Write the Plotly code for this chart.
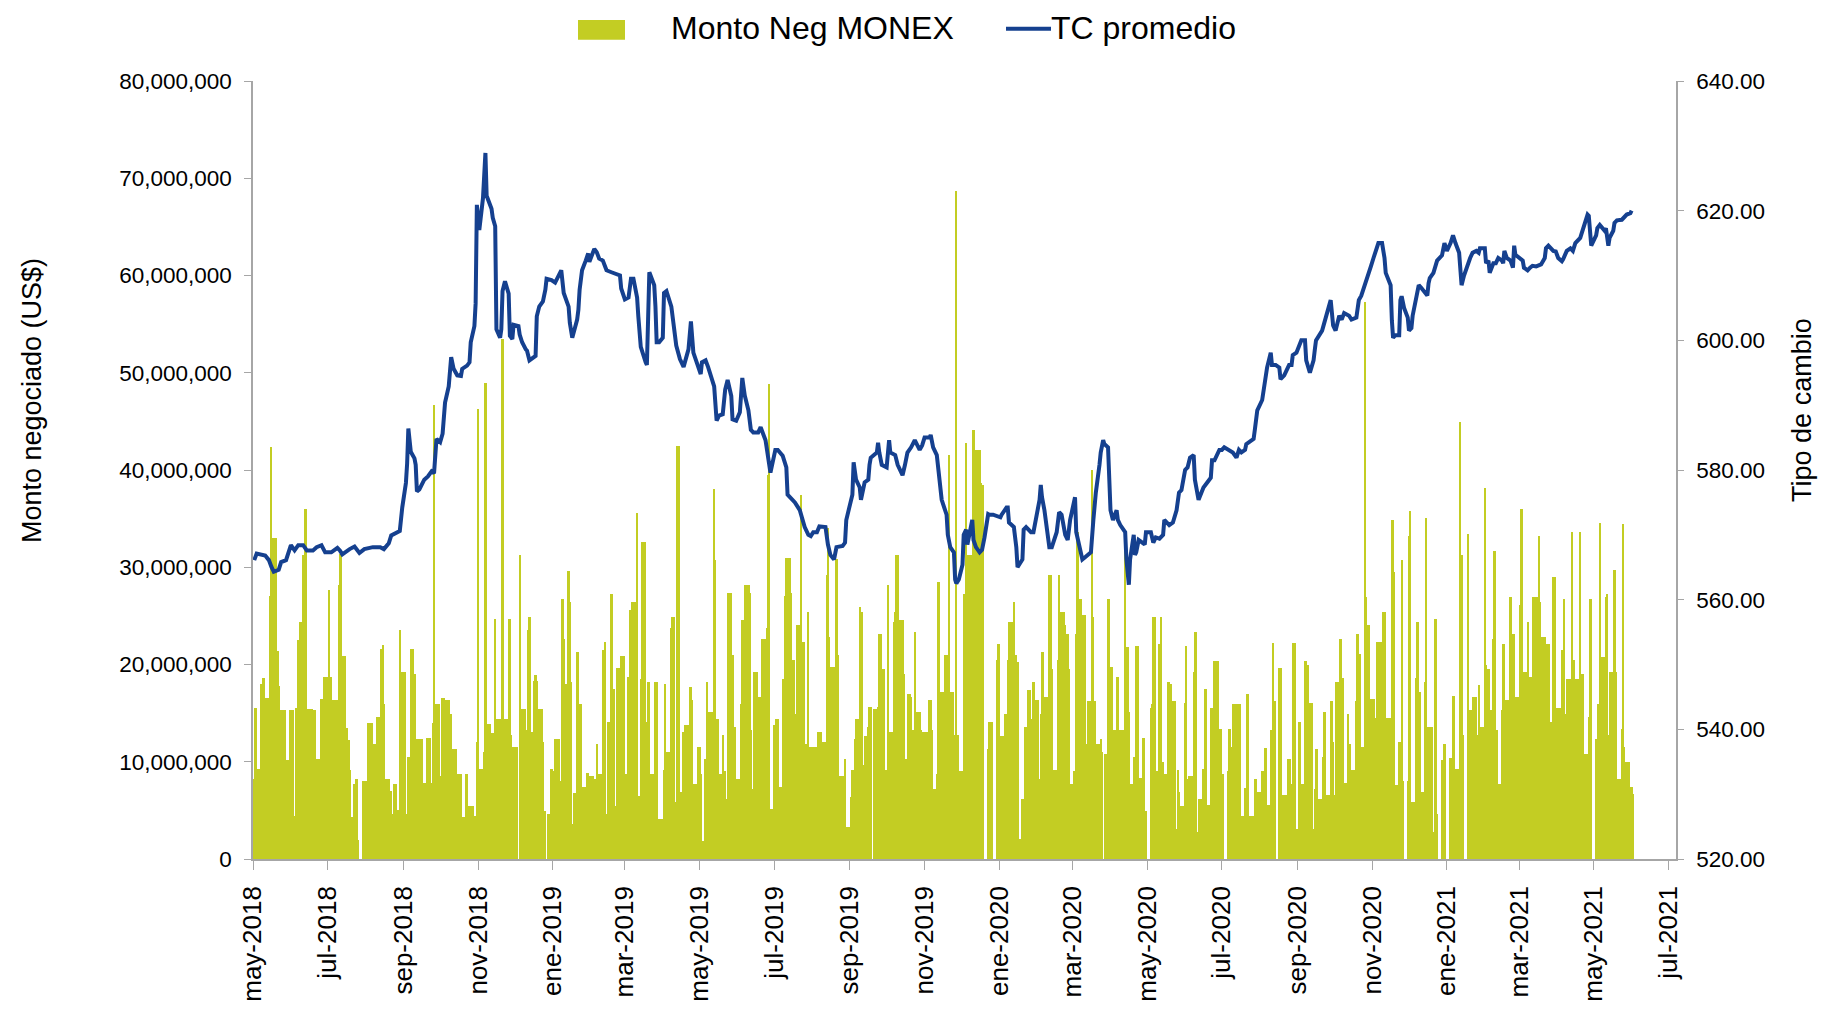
import pandas as pd
import plotly.graph_objects as go

# ---------------- DATA ----------------
# Monto negociado MONEX, millones de US$, un valor por día hábil (lista por mes)
monto_2018 = [
    [8.2, 15.5, 9.3, 9.3, 18.0, 18.6, 18.6, 16.6, 14.9, 27.0, 42.4, 33.0, 33.0, 21.4, 17.8, 15.3, 15.3, 15.3, 0.0, 10.2, 10.2, 15.3],
    [15.3, 4.4, 15.5, 15.5, 22.5, 24.4, 31.3, 31.3, 36.0, 15.4, 15.4, 15.4, 15.3, 15.3, 15.3, 10.3, 3.8, 16.5, 16.5, 18.7, 18.7],
    [27.7, 10.4, 18.7, 16.3, 16.3, 16.3, 28.2, 31.4, 31.4, 20.9, 13.5, 13.5, 12.2, 9.2, 4.3, 7.7, 8.2, 8.2, 2.0, 0.0, 8.0, 8.0],
    [8.0, 8.0, 14.0, 14.0, 1.9, 11.8, 11.8, 14.6, 14.6, 21.6, 22.0, 15.9, 8.2, 8.2, 7.0, 7.0, 4.6, 7.7, 5.0, 5.0, 23.5, 19.2, 19.2],
    [4.6, 0.0, 10.5, 10.5, 21.6, 19.0, 12.3, 12.3, 12.3, 12.3, 3.7, 7.8, 7.8, 12.4, 12.4, 7.8, 14.0, 46.7, 15.9, 15.9],
    [4.0, 8.5, 16.6, 16.6, 16.3, 16.3, 14.9, 14.9, 11.3, 11.3, 0.0, 8.7, 8.7, 8.7, 4.3, 8.7, 8.7, 4.4, 5.4, 5.4, 4.4, 4.4, 12.0],
    [46.3, 9.3, 9.3, 11.0, 48.9, 13.9, 13.9, 13.0, 13.0, 10.3, 24.7, 14.4, 14.4, 10.3, 53.5, 14.4, 14.4, 24.7, 24.7, 12.8, 11.5, 11.5],
    [11.5, 0.0, 31.3, 15.4, 15.4, 13.3, 0.0, 23.5, 24.9, 13.1, 18.3, 18.9, 18.3, 15.4, 15.4, 12.0, 4.9, 4.9, 0.0, 4.6, 9.3],
]
monto_2019 = [
    [0.0, 9.0, 12.3, 12.3, 4.4, 8.0, 26.7, 22.6, 18.0, 29.6, 26.4, 18.2, 3.6, 6.8, 21.3, 21.3, 15.9, 15.9, 7.4, 7.4, 8.8, 8.8, 8.5],
    [8.5, 6.4, 8.2, 11.8, 8.7, 8.7, 21.5, 21.5, 22.3, 4.6, 14.1, 27.3, 17.5, 17.5, 5.4, 19.6, 19.6, 20.9, 20.9, 20.9],
    [8.7, 18.7, 25.6, 18.7, 26.4, 26.4, 35.6, 1.8, 6.5, 18.5, 32.6, 14.1, 14.1, 18.2, 18.2, 8.7, 8.7, 18.2, 18.2, 4.1, 4.1],
    [4.1, 9.2, 18.0, 11.0, 11.0, 23.8, 24.9, 24.9, 5.9, 42.5, 6.9, 6.9, 0.0, 13.1, 13.8, 13.8, 17.7, 17.7, 16.4, 7.7, 7.7, 11.5],
    [11.5, 8.7, 1.8, 10.3, 18.2, 15.1, 15.1, 15.1, 38.0, 30.7, 14.4, 14.4, 8.7, 12.8, 9.0, 9.0, 6.2, 27.4, 27.4, 21.0, 13.6, 13.6, 8.2],
    [8.2, 15.9, 24.6, 24.6, 28.2, 28.2, 27.4, 13.3, 7.2, 19.2, 19.2, 16.7, 16.7, 16.7, 22.6, 22.6, 23.8, 39.5, 48.8, 5.1],
    [13.8, 13.8, 14.4, 14.4, 7.4, 18.5, 18.5, 27.0, 31.0, 31.0, 27.4, 20.5, 20.5, 14.9, 24.1, 24.1, 37.4, 22.3, 22.3, 11.8, 25.4, 11.5, 11.5],
    [11.5, 11.5, 0.0, 13.1, 13.1, 13.1, 12.0, 12.0, 29.2, 34.0, 22.8, 19.7, 19.7, 19.7, 30.8, 21.0, 8.5, 8.5, 8.5, 10.3, 3.3, 3.3],
    [6.4, 9.2, 9.2, 12.3, 14.4, 25.9, 25.4, 25.4, 9.7, 12.6, 13.6, 15.6, 15.6, 0.0, 15.4, 15.4, 15.6, 23.1, 23.1, 19.5, 9.2],
    [9.2, 28.2, 13.1, 13.1, 24.4, 25.4, 31.3, 31.3, 24.6, 24.6, 19.0, 10.3, 10.3, 17.0, 16.7, 13.3, 13.3, 23.3, 15.1, 15.1, 13.3, 13.1, 13.1],
    [13.1, 8.2, 16.4, 16.4, 13.3, 7.2, 8.7, 28.5, 28.5, 17.2, 17.2, 21.0, 21.0, 21.0, 41.5, 17.2, 12.8, 12.8, 68.7, 12.8, 9.0],
    [9.0, 27.2, 27.2, 42.8, 31.3, 31.3, 26.9, 44.1, 39.0, 42.1, 42.1, 38.7, 38.5, 38.5, 0.0, 11.3, 14.1, 14.1, 14.1, 0.0, 20.5, 22.1],
]
monto_2020 = [
    [22.1, 12.6, 12.6, 14.9, 14.9, 20.5, 24.4, 24.4, 26.4, 21.0, 21.0, 20.3, 2.1, 6.2, 6.2, 13.6, 13.6, 17.4, 14.4, 14.4, 18.2, 16.4, 16.4],
    [8.2, 14.9, 21.3, 21.3, 16.7, 13.3, 29.2, 29.2, 19.5, 9.2, 9.2, 20.5, 29.2, 25.4, 25.4, 24.1, 23.1, 23.1, 19.5, 7.7],
    [9.0, 9.0, 23.1, 33.6, 26.7, 0.0, 25.1, 25.1, 11.8, 16.2, 16.2, 40.0, 24.9, 16.2, 11.8, 11.8, 12.3, 11.0, 0.0, 10.8, 26.7, 26.7],
    [19.7, 19.7, 13.3, 18.7, 18.7, 0.0, 13.3, 13.3, 33.8, 21.8, 21.8, 15.1, 7.7, 10.5, 10.5, 21.9, 21.9, 8.3, 4.6, 12.4, 4.9, 4.9],
    [0.0, 15.5, 15.9, 24.9, 24.9, 9.0, 22.1, 24.9, 10.0, 10.0, 8.7, 18.2, 18.2, 18.0, 16.2, 16.2, 3.1, 9.2, 6.9, 5.4, 5.4],
    [16.0, 21.9, 8.2, 8.5, 8.5, 19.2, 23.3, 23.3, 2.8, 6.2, 6.2, 9.3, 17.5, 17.5, 5.6, 15.5, 15.5, 15.1, 20.4, 20.4, 4.6, 13.4],
    [8.7, 8.7, 0.0, 9.0, 13.4, 13.4, 11.5, 15.9, 15.9, 10.7, 15.9, 15.9, 4.4, 7.3, 7.3, 17.0, 4.4, 4.4, 0.0, 8.2, 8.2, 6.9, 6.9],
    [9.1, 9.1, 11.4, 11.4, 5.6, 13.3, 13.3, 22.2, 16.2, 0.0, 19.6, 19.6, 4.1, 6.6, 6.6, 10.3, 10.3, 10.3, 7.7, 22.2, 3.1],
    [3.1, 14.1, 14.1, 7.7, 20.4, 20.4, 20.0, 16.0, 16.0, 3.1, 7.2, 11.3, 11.3, 6.2, 6.2, 10.5, 15.1, 6.6, 6.6, 16.2, 16.2, 12.0],
    [6.6, 18.2, 18.2, 22.6, 18.6, 18.6, 7.8, 14.9, 11.8, 11.8, 9.2, 9.2, 16.2, 23.1, 21.1, 21.1, 11.5, 57.3, 26.9, 24.1, 24.1, 16.5],
    [16.5, 14.5, 9.2, 22.3, 22.3, 22.3, 25.4, 25.4, 9.2, 14.5, 14.5, 34.9, 34.9, 29.5, 7.6, 12.0, 12.0, 30.7, 8.0, 0.0, 8.0],
    [33.2, 35.8, 5.9, 5.9, 18.6, 24.4, 17.2, 17.2, 6.9, 18.2, 35.1, 13.6, 13.6, 13.6, 2.8, 24.7, 24.7, 4.6, 0.0, 10.2, 10.2, 11.8, 0.0],
]
monto_2021 = [
    [0.0, 10.4, 10.4, 16.8, 16.8, 9.3, 9.3, 44.9, 31.3, 12.8, 0.0, 33.4, 15.3, 15.3, 15.3, 16.7, 16.7, 12.7, 17.9, 13.6, 13.6],
    [38.1, 19.9, 19.5, 19.5, 15.3, 22.6, 31.7, 13.3, 13.3, 7.7, 15.3, 22.1, 22.1, 16.4, 16.4, 26.9, 16.7, 23.1, 23.1, 16.7],
    [16.7, 26.1, 36.0, 19.2, 19.2, 24.4, 18.7, 18.7, 18.7, 26.9, 26.9, 26.9, 33.2, 26.4, 22.8, 22.8, 22.1, 22.1, 22.1, 14.1, 29.0, 29.0, 0.0],
    [15.5, 15.5, 21.5, 21.5, 26.7, 14.9, 18.5, 18.5, 33.6, 20.5, 20.5, 18.5, 10.8, 33.6, 19.0, 19.0, 10.8, 10.8, 14.6, 26.7, 26.7, 0.0],
    [12.3, 12.3, 15.9, 34.5, 20.8, 20.8, 26.9, 27.2, 12.7, 19.2, 19.2, 29.7, 19.2, 8.2, 8.2, 13.4, 34.4, 11.5, 10.0, 10.0, 7.4],
    [7.4, 6.7],
]

# Tipo de cambio promedio (CLP/US$)
tc_fechas = [
    "2018-05-02", "2018-05-04", "2018-05-11", "2018-05-14", "2018-05-16", "2018-05-18", "2018-05-22", "2018-05-24", "2018-05-28", "2018-05-30",
    "2018-06-01", "2018-06-04", "2018-06-07", "2018-06-11", "2018-06-14", "2018-06-19", "2018-06-22", "2018-06-26", "2018-06-29",
    "2018-07-04", "2018-07-09", "2018-07-11", "2018-07-13", "2018-07-19", "2018-07-23", "2018-07-27", "2018-07-31",
    "2018-08-07", "2018-08-13", "2018-08-16", "2018-08-20", "2018-08-22", "2018-08-27", "2018-08-29", "2018-08-31",
    "2018-09-03", "2018-09-04", "2018-09-05", "2018-09-07", "2018-09-10", "2018-09-11", "2018-09-12", "2018-09-14", "2018-09-18",
    "2018-09-21", "2018-09-24", "2018-09-26", "2018-09-28",
    "2018-10-01", "2018-10-03", "2018-10-05", "2018-10-08", "2018-10-10", "2018-10-12", "2018-10-15", "2018-10-18", "2018-10-19",
    "2018-10-23", "2018-10-25", "2018-10-26", "2018-10-29", "2018-10-30", "2018-10-31",
    "2018-11-02", "2018-11-05", "2018-11-07", "2018-11-08", "2018-11-12", "2018-11-13", "2018-11-15", "2018-11-16", "2018-11-19",
    "2018-11-20", "2018-11-21", "2018-11-23", "2018-11-26", "2018-11-27", "2018-11-29", "2018-11-30",
    "2018-12-04", "2018-12-05", "2018-12-07", "2018-12-10", "2018-12-11", "2018-12-13", "2018-12-17", "2018-12-18", "2018-12-19",
    "2018-12-21", "2018-12-24", "2018-12-26", "2018-12-27", "2018-12-31",
    "2019-01-03", "2019-01-07", "2019-01-08", "2019-01-10", "2019-01-14", "2019-01-15", "2019-01-17", "2019-01-21", "2019-01-22",
    "2019-01-23", "2019-01-25", "2019-01-28", "2019-01-30", "2019-01-31",
    "2019-02-04", "2019-02-06", "2019-02-08", "2019-02-11", "2019-02-14", "2019-02-18", "2019-02-21", "2019-02-25", "2019-02-26",
    "2019-03-01", "2019-03-04", "2019-03-06", "2019-03-08", "2019-03-11", "2019-03-12", "2019-03-14", "2019-03-18", "2019-03-19",
    "2019-03-21", "2019-03-25", "2019-03-26", "2019-03-27", "2019-03-29",
    "2019-04-01", "2019-04-02", "2019-04-04", "2019-04-08", "2019-04-10", "2019-04-12", "2019-04-15", "2019-04-18", "2019-04-22",
    "2019-04-23", "2019-04-24", "2019-04-26", "2019-04-29",
    "2019-05-02", "2019-05-03", "2019-05-06", "2019-05-08", "2019-05-10", "2019-05-13", "2019-05-15", "2019-05-17", "2019-05-20",
    "2019-05-22", "2019-05-24", "2019-05-27", "2019-05-28", "2019-05-31",
    "2019-06-03", "2019-06-05", "2019-06-07", "2019-06-10", "2019-06-12", "2019-06-14", "2019-06-18", "2019-06-20", "2019-06-24",
    "2019-06-26", "2019-06-27", "2019-06-28",
    "2019-07-02", "2019-07-04", "2019-07-08", "2019-07-11", "2019-07-12", "2019-07-16", "2019-07-18", "2019-07-22", "2019-07-24",
    "2019-07-26", "2019-07-29", "2019-07-31",
    "2019-08-02", "2019-08-05", "2019-08-07", "2019-08-12", "2019-08-14", "2019-08-16", "2019-08-19", "2019-08-21", "2019-08-26",
    "2019-08-28", "2019-08-29",
    "2019-09-02", "2019-09-03", "2019-09-04", "2019-09-06", "2019-09-09", "2019-09-10", "2019-09-13", "2019-09-16", "2019-09-17",
    "2019-09-18", "2019-09-23", "2019-09-24", "2019-09-25", "2019-09-27",
    "2019-10-01", "2019-10-03", "2019-10-04", "2019-10-08", "2019-10-10", "2019-10-14", "2019-10-16", "2019-10-18", "2019-10-21",
    "2019-10-24", "2019-10-28", "2019-10-30",
    "2019-11-01", "2019-11-05", "2019-11-06", "2019-11-08", "2019-11-11", "2019-11-14", "2019-11-15", "2019-11-19", "2019-11-20",
    "2019-11-22", "2019-11-25", "2019-11-26", "2019-11-27", "2019-11-29",
    "2019-12-02", "2019-12-03", "2019-12-05", "2019-12-06", "2019-12-10", "2019-12-11", "2019-12-13", "2019-12-16", "2019-12-18",
    "2019-12-20", "2019-12-23", "2019-12-24", "2019-12-27",
    "2020-01-02", "2020-01-03", "2020-01-07", "2020-01-08", "2020-01-09", "2020-01-13", "2020-01-15", "2020-01-16", "2020-01-20",
    "2020-01-21", "2020-01-23", "2020-01-27", "2020-01-29", "2020-01-31",
    "2020-02-03", "2020-02-04", "2020-02-05", "2020-02-07", "2020-02-11", "2020-02-13", "2020-02-17", "2020-02-19", "2020-02-21",
    "2020-02-24", "2020-02-26", "2020-02-28",
    "2020-03-03", "2020-03-04", "2020-03-06", "2020-03-09", "2020-03-11", "2020-03-13", "2020-03-16", "2020-03-18", "2020-03-20",
    "2020-03-23", "2020-03-24", "2020-03-26", "2020-03-27", "2020-03-30", "2020-03-31",
    "2020-04-01", "2020-04-03", "2020-04-06", "2020-04-07", "2020-04-09", "2020-04-13", "2020-04-14", "2020-04-16", "2020-04-17",
    "2020-04-20", "2020-04-21", "2020-04-22", "2020-04-24", "2020-04-27", "2020-04-29", "2020-04-30",
    "2020-05-04", "2020-05-06", "2020-05-08", "2020-05-11", "2020-05-14", "2020-05-15", "2020-05-19", "2020-05-22", "2020-05-25",
    "2020-05-27", "2020-05-29",
    "2020-06-01", "2020-06-03", "2020-06-05", "2020-06-08", "2020-06-09", "2020-06-11", "2020-06-12", "2020-06-16", "2020-06-18",
    "2020-06-22", "2020-06-23", "2020-06-25", "2020-06-29",
    "2020-07-01", "2020-07-03", "2020-07-06", "2020-07-10", "2020-07-13", "2020-07-15", "2020-07-17", "2020-07-20", "2020-07-21",
    "2020-07-24", "2020-07-27", "2020-07-28", "2020-07-30",
    "2020-08-03", "2020-08-04", "2020-08-05", "2020-08-06", "2020-08-07", "2020-08-10", "2020-08-11", "2020-08-14", "2020-08-17",
    "2020-08-18", "2020-08-21", "2020-08-24", "2020-08-25", "2020-08-27", "2020-08-28", "2020-08-31",
    "2020-09-02", "2020-09-04", "2020-09-07", "2020-09-08", "2020-09-11", "2020-09-14", "2020-09-15", "2020-09-16", "2020-09-21",
    "2020-09-23", "2020-09-24", "2020-09-25", "2020-09-28", "2020-09-30",
    "2020-10-02", "2020-10-05", "2020-10-07", "2020-10-09", "2020-10-13", "2020-10-15", "2020-10-19", "2020-10-20", "2020-10-21",
    "2020-10-23", "2020-10-26", "2020-10-29", "2020-10-31",
    "2020-11-02", "2020-11-04", "2020-11-06", "2020-11-09", "2020-11-11", "2020-11-12", "2020-11-16", "2020-11-17", "2020-11-18",
    "2020-11-20", "2020-11-23", "2020-11-24", "2020-11-25", "2020-11-27", "2020-11-30",
    "2020-12-01", "2020-12-03", "2020-12-04", "2020-12-07", "2020-12-09", "2020-12-11", "2020-12-14", "2020-12-16", "2020-12-17",
    "2020-12-18", "2020-12-21", "2020-12-23", "2020-12-24", "2020-12-28", "2020-12-29", "2020-12-30",
    "2021-01-01", "2021-01-04", "2021-01-06", "2021-01-07", "2021-01-08", "2021-01-11", "2021-01-12", "2021-01-13", "2021-01-15",
    "2021-01-18", "2021-01-20", "2021-01-22", "2021-01-25", "2021-01-27", "2021-01-28",
    "2021-02-01", "2021-02-02", "2021-02-04", "2021-02-05", "2021-02-08", "2021-02-10", "2021-02-12", "2021-02-15", "2021-02-16",
    "2021-02-17", "2021-02-19", "2021-02-22", "2021-02-24", "2021-02-25", "2021-02-26",
    "2021-03-02", "2021-03-04", "2021-03-05", "2021-03-08", "2021-03-10", "2021-03-12", "2021-03-15", "2021-03-17", "2021-03-19",
    "2021-03-22", "2021-03-23", "2021-03-25", "2021-03-29", "2021-03-31",
    "2021-04-02", "2021-04-05", "2021-04-06", "2021-04-09", "2021-04-12", "2021-04-14", "2021-04-16", "2021-04-20", "2021-04-22",
    "2021-04-23", "2021-04-26", "2021-04-27", "2021-04-29",
    "2021-05-03", "2021-05-04", "2021-05-06", "2021-05-10", "2021-05-11", "2021-05-13", "2021-05-14", "2021-05-17", "2021-05-18",
    "2021-05-20", "2021-05-24", "2021-05-25", "2021-05-28", "2021-05-31", "2021-06-01",
]
tc_valores = [
    566.1, 567.1, 566.8, 566.1, 565.1, 564.3, 564.6, 565.8, 566.1, 567.1,
    568.4, 567.6, 568.4, 568.4, 567.6, 567.6, 568.1, 568.4, 567.3,
    567.3, 568.0, 567.6, 567.0, 567.8, 568.2, 567.2, 567.8,
    568.1, 568.1, 567.8, 568.7, 569.9, 570.4, 570.6, 574.2,
    578.0, 581.0, 586.4, 582.8, 581.8, 580.8, 576.7, 577.0, 578.5,
    579.0, 579.8, 579.5, 584.8,
    584.3, 585.6, 590.4, 592.9, 597.4, 595.6, 594.6, 594.5, 595.6,
    596.1, 596.6, 599.7, 602.2, 605.7, 620.9,
    617.0, 621.9, 628.9, 622.3, 620.3, 618.9, 617.6, 601.7, 600.4,
    601.7, 607.6, 609.1, 607.2, 600.7, 600.2, 602.4,
    602.2, 600.9, 599.7, 598.6, 598.4, 596.9, 597.4, 597.6, 603.7,
    605.2, 606.0, 607.8, 609.5, 609.3,
    608.9, 610.3, 610.8, 607.3, 605.2, 602.7, 600.4, 603.2, 604.7,
    607.8, 610.8, 612.3, 613.4, 612.1,
    614.1, 613.6, 612.6, 612.3, 610.8, 610.5, 610.3, 610.0, 608.0,
    606.3, 606.6, 609.5, 609.5, 606.6, 603.7, 599.0, 596.6, 596.2,
    610.5, 608.5, 605.2, 599.7, 599.7,
    600.4, 607.3, 607.6, 605.2, 601.7, 599.2, 597.1, 595.9, 598.6,
    601.7, 602.9, 598.1, 596.6,
    594.8, 596.6, 596.9, 595.9, 594.8, 592.9, 587.6, 588.4, 588.6,
    592.4, 593.9, 591.4, 587.8, 587.6,
    588.9, 594.2, 591.5, 589.2, 586.2, 585.8, 585.8, 586.6, 584.6,
    581.5, 580.0, 579.6,
    583.1, 583.1, 582.2, 580.4, 576.2, 575.4, 575.0, 573.8, 572.3,
    571.2, 570.0, 569.8,
    570.4, 570.4, 571.3, 571.2, 568.5, 566.9, 566.2, 568.1, 568.3,
    568.8, 572.3,
    575.0, 576.2, 581.2, 578.5, 577.3, 575.4, 578.1, 578.5, 580.8,
    581.9, 582.7, 584.2, 582.7, 580.8,
    580.4, 584.6, 582.7, 582.3, 580.8, 579.2, 580.8, 582.7, 583.5,
    584.6, 583.1, 583.8,
    585.0, 585.0, 585.4, 583.5, 582.3, 577.7, 575.4, 573.1, 570.0,
    568.1, 567.3, 563.1, 562.5, 563.1,
    565.4, 570.0, 570.8, 568.5, 572.3, 569.2, 568.1, 567.3, 567.7,
    569.6, 573.2, 573.1, 573.1,
    572.7, 573.1, 574.2, 574.2, 571.9, 571.2, 568.1, 565.0, 566.2,
    570.8, 571.2, 570.4, 570.4, 572.3,
    575.4, 577.7, 575.8, 573.8, 568.1, 568.1, 570.4, 573.5, 573.1,
    570.0, 569.2, 572.3,
    575.8, 570.4, 568.5, 566.2, 566.5, 566.9, 567.3, 572.3, 576.5,
    580.8, 582.7, 584.6, 584.0, 583.5, 579.2,
    573.8, 572.3, 573.8, 572.3, 571.5, 570.4, 566.2, 562.3, 566.2,
    570.0, 566.9, 567.3, 569.2, 568.8, 568.5, 570.4,
    570.4, 568.8, 569.6, 569.4, 570.0, 572.3, 571.5, 571.9, 573.8,
    576.5, 576.9,
    580.0, 580.4, 581.9, 582.3, 578.5, 576.2, 575.4, 577.3, 577.8,
    578.8, 581.5, 581.5, 583.1,
    583.1, 583.5, 583.1, 582.7, 581.9, 583.1, 582.7, 583.1, 584.0,
    584.5, 584.8, 586.2, 589.2,
    590.8, 592.3, 593.8, 594.6, 595.8, 598.1, 596.2, 596.2, 595.8,
    594.0, 594.6, 595.8, 596.2, 596.2, 597.7, 598.1,
    599.2, 600.0, 600.0, 596.9, 595.0, 596.9, 598.5, 600.0, 601.5,
    602.7, 603.2, 604.2, 606.2, 602.3,
    601.5, 603.8, 603.2, 604.2, 603.8, 603.2, 603.5, 604.6, 606.2,
    606.9, 608.5, 610.4, 611.5,
    612.7, 614.0, 615.0, 615.0, 612.7, 610.4, 608.5, 603.1, 600.4,
    600.8, 600.8, 606.2, 606.8, 605.0, 603.5,
    601.5, 601.9, 603.8, 606.9, 608.5, 608.1, 607.3, 606.9, 608.8,
    609.6, 610.4, 611.9, 612.3, 613.1, 614.6, 615.0,
    613.8, 615.0, 616.2, 615.5, 615.0, 613.5, 609.6, 608.5, 610.0,
    611.9, 612.7, 613.5, 613.8, 613.5, 614.2,
    614.2, 611.9, 612.3, 610.4, 611.9, 611.9, 612.7, 612.3, 611.9,
    613.8, 612.7, 612.3, 611.2, 614.6, 613.2,
    612.5, 612.3, 611.2, 610.8, 611.2, 611.5, 611.4, 611.5, 611.7,
    612.7, 614.2, 614.6, 613.8, 613.7,
    612.7, 612.2, 612.5, 613.8, 614.2, 613.8, 615.0, 615.8, 616.9,
    617.8, 619.4, 619.2, 614.6,
    616.2, 617.3, 617.8, 616.9, 617.3, 614.6, 615.8, 616.9, 618.1,
    618.5, 618.6, 618.8, 619.4, 619.6, 620.0,
]

tick_fechas = ["2018-05-01", "2018-07-01", "2018-09-01", "2018-11-01", "2019-01-01", "2019-03-01", "2019-05-01",
               "2019-07-01", "2019-09-01", "2019-11-01", "2020-01-01", "2020-03-01", "2020-05-01", "2020-07-01",
               "2020-09-01", "2020-11-01", "2021-01-01", "2021-03-01", "2021-05-01", "2021-07-01"]
tick_textos = ["may-2018", "jul-2018", "sep-2018", "nov-2018", "ene-2019", "mar-2019", "may-2019",
               "jul-2019", "sep-2019", "nov-2019", "ene-2020", "mar-2020", "may-2020", "jul-2020",
               "sep-2020", "nov-2020", "ene-2021", "mar-2021", "may-2021", "jul-2021"]

serie_barras = "Monto Neg MONEX"
serie_linea = "TC promedio"

# ---------------- BUILD ----------------
fechas, montos = [], []
anios = [(2018, 5, monto_2018), (2019, 1, monto_2019), (2020, 1, monto_2020), (2021, 1, monto_2021)]
for anio, mes0, meses in anios:
    for i, vals in enumerate(meses):
        m = mes0 + i
        ini = pd.Timestamp(anio, m, 2 if (anio == 2018 and m == 5) else 1)
        fin = ini + pd.offsets.MonthEnd(0)
        dias = pd.bdate_range(ini, fin)
        n = min(len(dias), len(vals))
        fechas += list(dias[:n])
        montos += [v * 1e6 for v in vals[:n]]

DAY = 86400000.0
anchos = []
for i, f in enumerate(fechas):
    if i + 1 < len(fechas):
        gap = (fechas[i + 1] - f).total_seconds() * 1000.0
    else:
        gap = DAY
    # slight overlap so adjacent bars form a continuous fill (no anti-alias seams)
    anchos.append(gap + 0.4 * DAY)

VERDE = "#C3CD23"
AZUL = "#15408F"
GRIS = "#A6A6A6"
FONT = "Liberation Sans, Arial, sans-serif"

W, H = 1821, 1014
L, R, T, B = 253, 1676, 81, 871


def px(x):
    return (x - L) / (R - L)


def py(y):
    return (B - y) / (B - T)


fig = go.Figure()
fig.add_trace(go.Bar(
    x=fechas, y=montos, width=anchos, offset=-DAY / 2,
    marker=dict(color=VERDE, line=dict(width=0)),
    name=serie_barras, showlegend=False, yaxis="y",
    hovertemplate="%{x|%d-%m-%Y}: %{y:,.0f}<extra></extra>",
))
fig.add_trace(go.Scatter(
    x=tc_fechas, y=tc_valores, mode="lines",
    line=dict(color=AZUL, width=4),
    name=serie_linea, showlegend=False, yaxis="y2",
))

axis_common = dict(showgrid=False, zeroline=False, showline=True, linecolor=GRIS, linewidth=1.5,
                   ticks="outside", tickcolor=GRIS, tickwidth=1.3)

fig.update_layout(
    width=W, height=H,
    margin=dict(l=L, r=W - R, t=T, b=H - B),
    paper_bgcolor="white", plot_bgcolor="white",
    font=dict(family=FONT, color="#000000"),
    bargap=0,
    xaxis=dict(type="date", range=["2018-05-01", "2021-07-07 07:00"],
               tickmode="array", tickvals=tick_fechas, ticktext=tick_textos,
               tickangle=-90, ticklen=9, tickfont=dict(size=26, family=FONT, color="#000000"),
               ticklabelstandoff=6, **axis_common),
    yaxis=dict(range=[0, 80e6], dtick=10e6, tickformat=",d", ticklen=7,
               tickfont=dict(size=22.5, family=FONT, color="#000000"), ticklabelstandoff=8,
               **axis_common),
    yaxis2=dict(range=[520, 640], dtick=20, tickformat=".2f", overlaying="y", side="right",
                ticklen=6, tickfont=dict(size=22.5, family=FONT, color="#000000"), ticklabelstandoff=8,
                **axis_common),
    showlegend=False,
)

# títulos de ejes
fig.add_annotation(text="Monto negociado (US$)", x=px(32), y=py(406), xref="paper", yref="paper",
                   textangle=-90, showarrow=False, font=dict(size=27, family=FONT, color="#000000"),
                   xanchor="center", yanchor="middle")
fig.add_annotation(text="Tipo de cambio", x=px(1802), y=py(415), xref="paper", yref="paper",
                   textangle=-90, showarrow=False, font=dict(size=27, family=FONT, color="#000000"),
                   xanchor="center", yanchor="middle")

# leyenda
fig.add_shape(type="rect", xref="paper", yref="paper", x0=px(578), x1=px(625), y0=py(39), y1=py(19),
              fillcolor=VERDE, line=dict(width=0))
fig.add_annotation(text=serie_barras, x=px(669), y=py(27), xref="paper", yref="paper", showarrow=False,
                   xanchor="left", yanchor="middle", font=dict(size=32, family=FONT, color="#000000"))
fig.add_shape(type="line", xref="paper", yref="paper", x0=px(1006), x1=px(1051), y0=py(28), y1=py(28),
              line=dict(color=AZUL, width=4))
fig.add_annotation(text=serie_linea, x=px(1049), y=py(27), xref="paper", yref="paper", showarrow=False,
                   xanchor="left", yanchor="middle", font=dict(size=32, family=FONT, color="#000000"))

fig.write_html("out.html", config={"displayModeBar": False},
               post_script="document.body.style.margin='0';document.body.style.overflow='hidden';")
